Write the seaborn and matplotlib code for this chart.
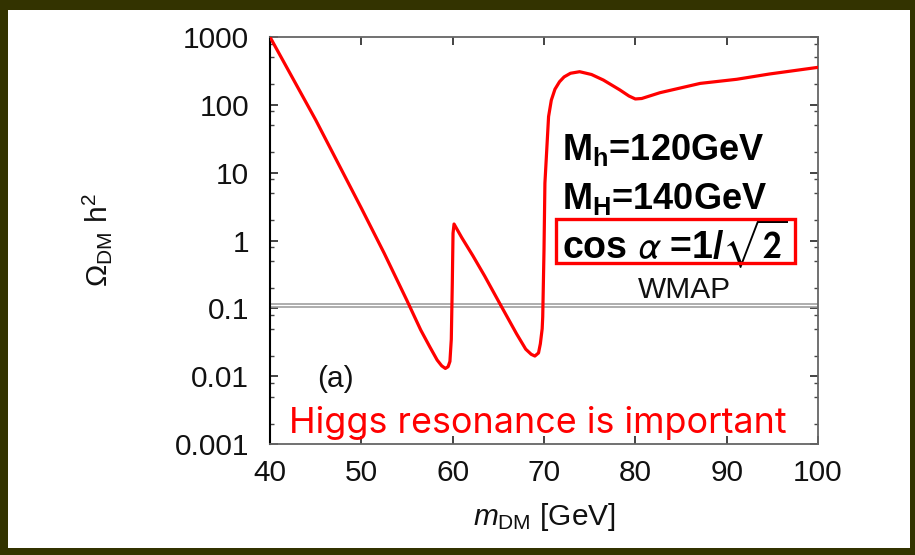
import matplotlib
matplotlib.use("Agg")
import matplotlib.pyplot as plt
from matplotlib.patches import Rectangle
from matplotlib.ticker import FixedLocator, FixedFormatter, LogLocator, NullFormatter, NullLocator
import pandas as pd
import seaborn as sns

# Relic abundance of the dark matter as a function of its mass
m_dm = [40.0, 45.0, 50.0, 52.5, 55.0, 56.5, 57.5, 58.3, 58.8, 59.2, 59.5,
        59.7, 59.85, 59.96, 60.04, 60.15, 61.0, 62.2, 63.5, 65.2, 67.0,
        68.0, 68.6, 69.0, 69.4, 69.6, 69.8, 69.86, 69.93, 70.0, 70.1,
        70.3, 70.5, 70.8, 71.2, 71.7, 72.2, 72.9, 73.9, 75.2, 76.5,
        78.3, 79.3, 80.0, 80.7, 82.7, 87.1, 91.1, 94.7, 100.0]
omega_h2 = [1000, 60, 3.0, 0.65, 0.13, 0.048, 0.027, 0.0173, 0.0142, 0.013, 0.0138,
            0.0165, 0.035, 0.234, 1.28, 1.75, 1.1, 0.6, 0.3, 0.115, 0.042,
            0.025, 0.021, 0.0198, 0.022, 0.03, 0.05, 0.075, 0.23, 0.72, 7.0,
            21.6, 67, 117, 170, 219, 258, 292, 308, 280, 232,
            166, 135, 122, 124, 151, 207, 238, 285, 357]

# WMAP allowed band
wmap_band = [0.104, 0.116]

x_ticks = [40, 50, 60, 70, 80, 90, 100]
x_tick_labels = ["40", "50", "60", "70", "80", "90", "100"]
y_ticks = [1e-3, 1e-2, 1e-1, 1, 10, 100, 1000]
y_tick_labels = ["0.001", "0.01", "0.1", "1", "10", "100", "1000"]

sns.set_theme(style="ticks")
plt.rcParams["font.family"] = ["Liberation Sans", "DejaVu Sans"]
plt.rcParams["mathtext.fontset"] = "custom"
plt.rcParams["mathtext.rm"] = "Liberation Sans"
plt.rcParams["mathtext.it"] = "Liberation Sans:italic"
plt.rcParams["mathtext.bf"] = "Liberation Sans:bold"
plt.rcParams["mathtext.sf"] = "Liberation Sans"

fig = plt.figure(figsize=(9.15, 5.55), dpi=100)
fig.patch.set_facecolor("white")
ax = fig.add_axes([270 / 915, 111 / 555, 548 / 915, 407 / 555])

df = pd.DataFrame({"m": m_dm, "omega": omega_h2})
sns.lineplot(data=df, x="m", y="omega", ax=ax, color="#ff0000", lw=2.3,
             sort=False, zorder=3)

for v in wmap_band:
    ax.axhline(v, color="#a0a0a0", lw=1.2, zorder=2)

ax.set_yscale("log")
ax.set_xlim(40, 100)
ax.set_ylim(1e-3, 1e3)

ax.xaxis.set_major_locator(FixedLocator(x_ticks))
ax.xaxis.set_major_formatter(FixedFormatter(x_tick_labels))
ax.xaxis.set_minor_locator(NullLocator())
ax.yaxis.set_major_locator(FixedLocator(y_ticks))
ax.yaxis.set_major_formatter(FixedFormatter(y_tick_labels))
ax.yaxis.set_minor_locator(LogLocator(base=10, subs=[2, 5, 8]))
ax.yaxis.set_minor_formatter(NullFormatter())

ax.tick_params(which="major", direction="in", length=5.5, width=1.1,
               top=True, right=True, labelsize=21.5, colors="#111111")
ax.tick_params(which="minor", direction="in", length=3, width=1.0,
               top=True, right=True, colors="#444444")
ax.tick_params(axis="y", which="major", pad=15)
ax.tick_params(axis="x", which="major", pad=11)

for side in ["top", "right", "bottom"]:
    ax.spines[side].set_color("#666666")
    ax.spines[side].set_linewidth(1.3)
ax.spines["left"].set_color("#000000")
ax.spines["left"].set_linewidth(1.5)

ax.set_xlabel(r"$m_{\rm DM}$ [GeV]", fontsize=21.5, color="#111111", labelpad=10)
ax.set_ylabel(r"$\Omega_{\rm DM}\ \mathrm{h}^2$", fontsize=21.5, color="#111111")
ax.yaxis.set_label_coords(-0.285, 0.5)

ax.set_facecolor("white")
ax.grid(False)

# Model parameters
ax.text(0.533, 0.698, r"M$_\mathbf{h}$=120GeV", transform=ax.transAxes,
        fontsize=26, fontweight="bold", color="black", va="baseline", ha="left")
ax.text(0.533, 0.577, r"M$_\mathbf{H}$=140GeV", transform=ax.transAxes,
        fontsize=26, fontweight="bold", color="black", va="baseline", ha="left")
ax.text(0.533, 0.457, r"cos $\alpha$ =1/$\sqrt{\mathbf{2}}$", transform=ax.transAxes,
        fontsize=27, fontweight="bold", color="black", va="baseline", ha="left",
        math_fontfamily="stixsans")
ax.add_patch(Rectangle((0.522, 0.4447), 0.436, 0.108, transform=ax.transAxes,
                       fill=False, edgecolor="#ff0000", lw=2.4, zorder=4,
                       clip_on=False))

ax.text(0.757, 0.359, "WMAP", transform=ax.transAxes, fontsize=21.5,
        color="#111111", ha="center", va="baseline")
ax.text(0.0858, 0.140, "(a)", transform=ax.transAxes, fontsize=21.5,
        color="#111111", ha="left", va="baseline")
ax.text(0.0347, 0.027, "Higgs resonance is important", transform=ax.transAxes,
        fontsize=25.8, color="#ff0000", ha="left", va="baseline",
        family=["Inter", "DejaVu Sans"], zorder=5, clip_on=False)

# Dark olive frame around the slide
frame = "#333300"
W, H = 915, 555
for (x0, y0, w, h) in [(0, 0, 8, H), (W - 5, 0, 5, H), (0, H - 10, W, 10), (0, 0, W, 7)]:
    fig.add_artist(Rectangle((x0 / W, y0 / H), w / W, h / H,
                             transform=fig.transFigure, facecolor=frame,
                             edgecolor="none", zorder=10))

fig.savefig("out.png", dpi=100, facecolor="white")
